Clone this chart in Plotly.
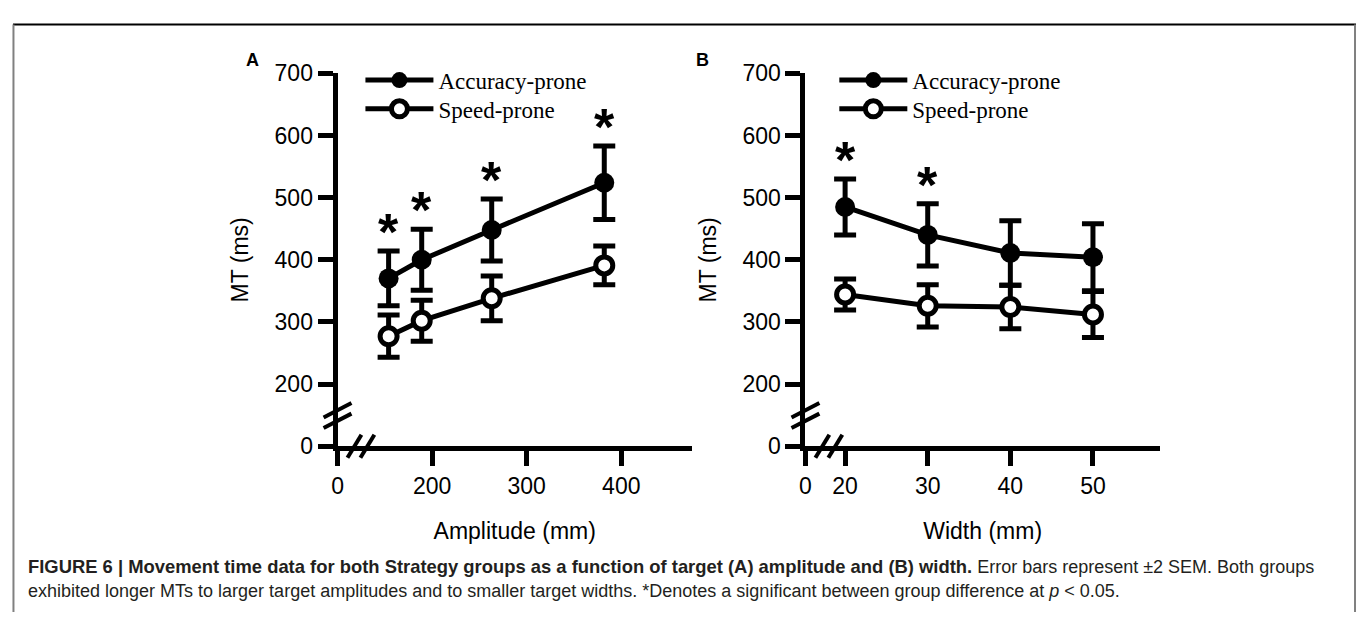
import plotly.graph_objects as go

# ---------------- data ----------------
amplitude = [154, 189, 263, 382]
acc_amp = [370, 400, 448, 524]
acc_amp_err = [44, 49, 50, 59]
spd_amp = [277, 302, 338, 391]
spd_amp_err = [34, 33, 36, 31]
sig_amp = [True, True, True, True]

width = [20, 30, 40, 50]
acc_wid = [485, 440, 411, 404]
acc_wid_err = [45, 50, 52, 54]
spd_wid = [344, 326, 324, 312]
spd_wid_err = [25, 34, 35, 37]
sig_wid = [True, True, False, False]

y_tickvals = [100, 200, 300, 400, 500, 600, 700]   # "0" drawn at the break position
y_ticktext = ["0", "200", "300", "400", "500", "600", "700"]
a_tickvals = [100, 200, 300, 400]
a_ticktext = ["0", "200", "300", "400"]
w_tickvals = [15.2, 20, 30, 40, 50]
w_ticktext = ["0", "20", "30", "40", "50"]

# ---------------- layout helpers ----------------
W, H = 1357, 625
def px(x):
    return x / W
def py(y):
    return 1 - y / H

A_LEFT, A_RIGHT = 333, 689
B_LEFT, B_RIGHT = 803, 1159
Y_BOT, Y_TOP = 452, 63

fig = go.Figure()

def add_group(x, y, err, xa, ya, legend, filled, name):
    fig.add_trace(go.Scatter(
        x=x, y=y, mode="lines+markers", name=name,
        xaxis=xa, yaxis=ya, legend=legend,
        line=dict(color="black", width=5),
        marker=dict(size=20 if filled else 17,
                    color="black" if filled else "white",
                    line=dict(color="black", width=0 if filled else 5)),
        error_y=dict(type="data", array=err, visible=True,
                     color="black", thickness=5, width=11),
        cliponaxis=False,
    ))

add_group(amplitude, acc_amp, acc_amp_err, "x", "y", "legend", True, "Accuracy-prone")
add_group(amplitude, spd_amp, spd_amp_err, "x", "y", "legend2", False, "Speed-prone")
add_group(width, acc_wid, acc_wid_err, "x2", "y2", "legend3", True, "Accuracy-prone")
add_group(width, spd_wid, spd_wid_err, "x2", "y2", "legend4", False, "Speed-prone")

tickfont = dict(family="Arial, Liberation Sans", size=23, color="black")
axis_common = dict(showline=True, linewidth=5, linecolor="black", ticks="outside",
                   ticklen=15, tickwidth=5, tickcolor="black", showgrid=False,
                   zeroline=False, tickfont=tickfont, fixedrange=True)

legend_font = dict(family="Liberation Serif, Times New Roman", size=23, color="black")
def legend_at(xpix, ypix):
    return dict(x=px(xpix), y=py(ypix), xanchor="left", yanchor="middle",
                font=legend_font, itemwidth=68, bgcolor="rgba(0,0,0,0)",
                borderwidth=0)

fig.update_layout(
    width=W, height=H, margin=dict(l=0, r=0, t=0, b=0),
    paper_bgcolor="white", plot_bgcolor="white",
    xaxis=dict(domain=[px(A_LEFT), px(A_RIGHT)], range=[100, 474.7], anchor="y",
               tickvals=a_tickvals, ticktext=a_ticktext,
               title=dict(text="Amplitude (mm)", font=tickfont, standoff=27), **axis_common),
    yaxis=dict(domain=[py(Y_BOT), py(Y_TOP)], range=[100, 700], anchor="x",
               tickvals=y_tickvals, ticktext=y_ticktext,
               title=dict(text="MT (ms)", font=tickfont, standoff=21), **axis_common),
    xaxis2=dict(domain=[px(B_LEFT), px(B_RIGHT)], range=[15.2, 58.1], anchor="y2",
                tickvals=w_tickvals, ticktext=w_ticktext,
                title=dict(text="Width (mm)", font=tickfont, standoff=27), **axis_common),
    yaxis2=dict(domain=[py(Y_BOT), py(Y_TOP)], range=[100, 700], anchor="x2",
                tickvals=y_tickvals, ticktext=y_ticktext,
                title=dict(text="MT (ms)", font=tickfont, standoff=21), **axis_common),
    legend=legend_at(356, 70),
    legend2=legend_at(356, 100),
    legend3=legend_at(832, 70),
    legend4=legend_at(832, 100),
    showlegend=True,
)

annotations = []
# significance stars
for xs, ys, es, sig, xr, yr in [(amplitude, acc_amp, acc_amp_err, sig_amp, "x", "y"),
                                (width, acc_wid, acc_wid_err, sig_wid, "x2", "y2")]:
    for xv, yv, ev, s in zip(xs, ys, es, sig):
        if s:
            annotations.append(dict(x=xv, y=yv + ev, xref=xr, yref=yr, text="<b>*</b>",
                                    showarrow=False, yanchor="middle", yshift=19,
                                    font=dict(family="Arial, Liberation Sans", size=52, color="black")))
# panel letters
annotations.append(dict(x=px(239), y=py(36), xref="paper", yref="paper", text="<b>A</b>",
                        showarrow=False, font=dict(family="Arial", size=18, color="black")))
annotations.append(dict(x=px(700), y=py(36), xref="paper", yref="paper", text="<b>B</b>",
                        showarrow=False, font=dict(family="Arial", size=18, color="black")))
# caption
cap_font = dict(family="Arial, Liberation Sans", size=18, color="#231f20")
annotations.append(dict(x=px(20), y=py(578), xref="paper", yref="paper", xanchor="left",
                        yanchor="middle", showarrow=False, font=cap_font,
                        text="<span style=\"font-size:18.4px\"><b>FIGURE 6 | Movement time data for both Strategy groups as a function of target (A) amplitude and (B) width.</b></span> Error bars represent \u00b12 SEM. Both groups"))
annotations.append(dict(x=px(20), y=py(603), xref="paper", yref="paper", xanchor="left",
                        yanchor="middle", showarrow=False, font=cap_font,
                        text="exhibited longer MTs to larger target amplitudes and to smaller target widths. *Denotes a significant between group difference at <i>p</i> &lt; 0.05."))
fig.update_layout(annotations=annotations)

shapes = []
# figure frame
shapes.append(dict(type="line", xref="paper", yref="paper", x0=px(7), x1=px(1356), y0=py(12), y1=py(12),
                   line=dict(color="black", width=2)))
shapes.append(dict(type="line", xref="paper", yref="paper", x0=px(7.5), x1=px(7.5), y0=py(12), y1=0,
                   line=dict(color="#808080", width=2)))
shapes.append(dict(type="line", xref="paper", yref="paper", x0=px(1355), x1=px(1355), y0=py(12), y1=0,
                   line=dict(color="#808080", width=2)))
# axis break marks
for left in (A_LEFT, B_LEFT):
    for dy in (0, 11):
        shapes.append(dict(type="line", xref="paper", yref="paper",
                           x0=px(left - 14), x1=px(left + 14), y0=py(Y_BOT - 30 + dy), y1=py(Y_BOT - 45 + dy),
                           line=dict(color="black", width=4)))
    for dx in (0, 13):
        shapes.append(dict(type="line", xref="paper", yref="paper",
                           x0=px(left + 10 + dx), x1=px(left + 24 + dx), y0=py(Y_BOT + 12), y1=py(Y_BOT - 12),
                           line=dict(color="black", width=4)))
fig.update_layout(shapes=shapes)

fig.write_html("out.html")
